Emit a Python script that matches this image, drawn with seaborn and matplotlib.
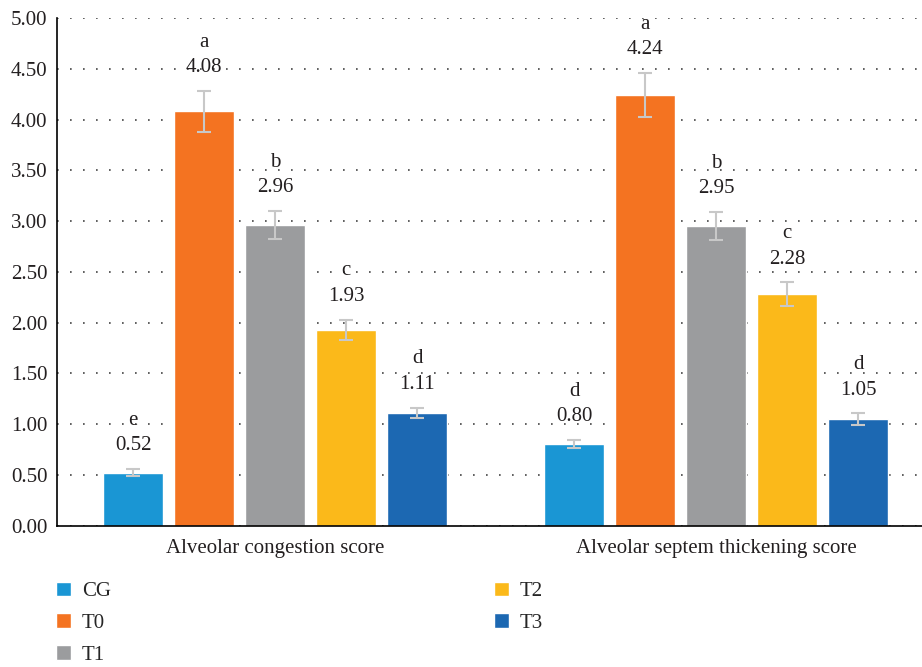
import matplotlib
matplotlib.use('Agg')
import matplotlib.pyplot as plt
import seaborn as sns
import pandas as pd
from matplotlib.patches import Patch

# Data
categories = ['Alveolar congestion score', 'Alveolar septem thickening score']
groups = ['CG', 'T0', 'T1', 'T2', 'T3']
congestion = [0.52, 4.08, 2.96, 1.93, 1.11]
congestion_err = [0.035, 0.20, 0.14, 0.10, 0.053]
congestion_letters = ['e', 'a', 'b', 'c', 'd']
thickening = [0.80, 4.24, 2.95, 2.28, 1.05]
thickening_err = [0.04, 0.22, 0.14, 0.115, 0.055]
thickening_letters = ['d', 'a', 'b', 'c', 'd']
colors = ['#1a96d4', '#f47321', '#9b9c9e', '#fbb91a', '#1c68b2']

rows = []
for i, g in enumerate(groups):
    rows.append({'Score': categories[0], 'Group': g, 'Value': congestion[i],
                 'Err': congestion_err[i], 'Letter': congestion_letters[i]})
    rows.append({'Score': categories[1], 'Group': g, 'Value': thickening[i],
                 'Err': thickening_err[i], 'Letter': thickening_letters[i]})
df = pd.DataFrame(rows)

sns.set_style('white')
plt.rcParams['font.family'] = ['Liberation Serif', 'DejaVu Serif']
plt.rcParams['font.size'] = 15

fig = plt.figure(figsize=(9.22, 6.67), dpi=100)
ax = fig.add_axes([0.0618, 0.212, 0.9382, 0.761])

sns.barplot(data=df, x='Score', y='Value', hue='Group', order=categories,
            hue_order=groups, palette=colors, width=0.805, gap=0.16,
            errorbar=None, legend=False, ax=ax, saturation=1, zorder=2)

# error bars and labels
for container, g in zip(ax.containers, groups):
    for bar, cat in zip(container, categories):
        row = df[(df['Group'] == g) & (df['Score'] == cat)].iloc[0]
        xc = bar.get_x() + bar.get_width() / 2
        ax.errorbar(xc, row['Value'], yerr=row['Err'], color='#c8c8c8',
                    capsize=5, elinewidth=1.5, capthick=1.5, zorder=3)
        ax.annotate(f"{row['Letter']}\n{row['Value']:.2f}",
                    xy=(xc, row['Value'] + row['Err']), xytext=(0, 10),
                    textcoords='offset points', ha='center', va='bottom',
                    fontsize=15, linespacing=1.45, color='#231f20')

ax.set_xlim(-0.495, 1.467)
ax.set_ylim(0, 5)
ax.set_yticks([i * 0.5 for i in range(11)])
ax.set_yticklabels([f'{i * 0.5:.2f}' for i in range(11)])
ax.yaxis.grid(True, linestyle=(0, (1, 6.8)), color='#444444', linewidth=1.2)
ax.set_axisbelow(True)
ax.tick_params(axis='both', length=0, labelsize=15, colors='#231f20')
ax.tick_params(axis='y', pad=7)
ax.tick_params(axis='x', pad=10)
ax.set_xlabel('')
ax.set_ylabel('')
for s in ['top', 'right']:
    ax.spines[s].set_visible(False)
for s in ['left', 'bottom']:
    ax.spines[s].set_color('black')
    ax.spines[s].set_linewidth(1.2)

handles = [Patch(facecolor=c, label=g) for c, g in zip(colors, groups)]
fig.legend(handles=handles, loc='upper left', bbox_to_anchor=(0.061, 0.128),
           ncol=2, frameon=False, fontsize=15, handlelength=0.72,
           handleheight=0.72, handletextpad=0.5, labelspacing=0.58,
           columnspacing=18.4, borderaxespad=0, borderpad=0)

fig.savefig('out.png', dpi=100)
